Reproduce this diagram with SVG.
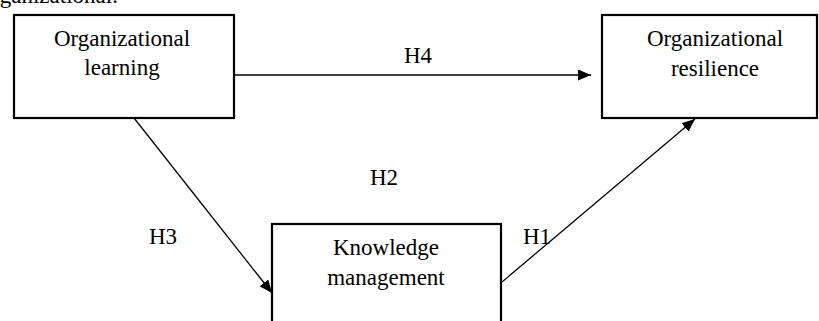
<svg xmlns="http://www.w3.org/2000/svg" width="819" height="321" viewBox="0 0 819 321">
<style>
.box{fill:#fff;stroke:#000;stroke-width:2.2}
.t{font-family:"Liberation Serif","Times New Roman",serif;font-size:23px;fill:#000;text-anchor:middle}
.lbl{font-family:"Liberation Serif","Times New Roman",serif;font-size:23px;fill:#000}
.c{stroke:#000;stroke-width:1.3;fill:none;marker-end:url(#ah)}
</style>
<defs>
<marker id="ah" markerUnits="userSpaceOnUse" markerWidth="13" markerHeight="11" refX="13" refY="5.5" orient="auto">
<path d="M0,0 L13,5.5 L0,11 z" fill="#000"/>
</marker>
</defs>
<rect width="819" height="321" fill="#fff"/>
<text class="lbl" x="-19" y="3">organizational.</text>
<g id="organizational-learning">
<rect class="box" x="14" y="15" width="220" height="103"/>
<text class="t" x="122" y="46">Organizational</text>
<text class="t" x="122" y="75">learning</text>
</g>
<g id="organizational-resilience">
<rect class="box" x="602" y="15" width="215" height="103"/>
<text class="t" x="715" y="46">Organizational</text>
<text class="t" x="715" y="76">resilience</text>
</g>
<g id="knowledge-management">
<rect class="box" x="272" y="224" width="229" height="110"/>
<text class="t" x="386" y="255">Knowledge</text>
<text class="t" x="386" y="285">management</text>
</g>
<g id="connectors">
<line class="c" x1="234" y1="75" x2="591" y2="75"/>
<line class="c" x1="134" y1="118" x2="272" y2="293"/>
<line class="c" x1="502" y1="282" x2="695" y2="119"/>
</g>
<g id="labels">
<text class="lbl" x="404" y="63">H4</text>
<text class="lbl" x="370" y="185">H2</text>
<text class="lbl" x="149" y="244">H3</text>
<text class="lbl" x="523" y="244">H1</text>
</g>
</svg>
